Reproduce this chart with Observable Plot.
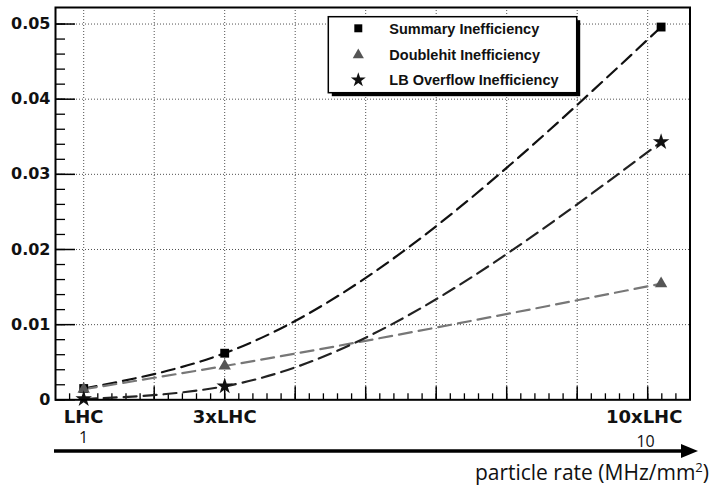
<!DOCTYPE html>
<html>
<head>
<meta charset="utf-8">
<script src="https://cdn.jsdelivr.net/npm/d3@7"></script>
<script src="https://cdn.jsdelivr.net/npm/@observablehq/plot@0.6"></script>
<style>
  html, body { margin: 0; padding: 0; background: #fff; }
  #chart { width: 710px; height: 487px; }
</style>
</head>
<body>
<div id="chart"></div>
<script>
// ---- data ----
const rateX = [1, 3, 9.19];                       // plotted x positions of LHC, 3xLHC, 10xLHC
const summary   = [0.0015, 0.0062, 0.0496];
const doublehit = [0.0014, 0.0045, 0.01545];
const lbOverflow = [0.0001, 0.0018, 0.0343];
const seriesNames = ["Summary Inefficiency", "Doublehit Inefficiency", "LB Overflow Inefficiency"];
const xLabels = ["LHC", "3xLHC", "10xLHC"];
const xLabelPos = [1, 3, 8.95];
const rateTickLabels = ["1", "10"];
const rateTickPos = [1, 8.97];
const yTicks = [0, 0.01, 0.02, 0.03, 0.04, 0.05];
const yMinorTicks = d3.range(0, 0.0501, 0.002);
const xGrid = [1, 2, 3, 4, 5, 6, 7, 8, 9];
const xMinorTicks = d3.range(0.8, 9.41, 0.2);
const xAxisTitle = "particle rate (MHz/mm";
const xAxisTitleSup = "2";

// ---- table ----
const seriesVals = [summary, doublehit, lbOverflow];
const data = seriesNames.flatMap((s, i) => rateX.map((x, j) => ({series: s, x, y: seriesVals[i][j]})));

const W = 710, H = 487;
const mL = 55, mR = 20.5, mT = 7, mB = 87.7;
const plotW = W - mL - mR, plotH = H - mT - mB;

const symbols = {"Summary Inefficiency": "square", "Doublehit Inefficiency": "triangle", "LB Overflow Inefficiency": "star"};
const markColor = {"Summary Inefficiency": "#000", "Doublehit Inefficiency": "#555", "LB Overflow Inefficiency": "#111"};
const lineColor = {"Summary Inefficiency": "#111", "Doublehit Inefficiency": "#777", "LB Overflow Inefficiency": "#222"};
const markR = {"Summary Inefficiency": 5, "Doublehit Inefficiency": 4.6, "LB Overflow Inefficiency": 5.2};

const gridStyle = {stroke: "#333", strokeOpacity: 0.85, strokeDasharray: "1,2", strokeWidth: 1};
const marks = [
  Plot.gridX(xGrid, gridStyle),
  Plot.gridY(yTicks.slice(1), gridStyle),
  // inward ticks on y axis
  Plot.tickY(yMinorTicks, {stroke: "#000", strokeWidth: 1.3, insetRight: plotW - 10}),
  Plot.tickY(yTicks, {stroke: "#000", strokeWidth: 1.5, insetRight: plotW - 20}),
  // inward ticks on x axis
  Plot.tickX(xMinorTicks, {stroke: "#000", strokeWidth: 1.3, insetTop: plotH - 6}),
  Plot.tickX(xGrid, {stroke: "#000", strokeWidth: 1.5, insetTop: plotH - 13}),
  Plot.axisY(yTicks, {tickSize: 0, tickPadding: 5, tickFormat: d => d === 0 ? "0" : d.toFixed(2),
    fontSize: 16, fontWeight: "bold", fontFamily: "DejaVu Sans", fill: "#111", label: null}),
  Plot.axisX({ticks: [], label: null, tickSize: 0}),
];
seriesNames.forEach(s => {
  marks.push(Plot.line(data.filter(d => d.series === s), {
    x: "x", y: "y", curve: "monotone-x", stroke: lineColor[s], strokeWidth: 2.2, strokeDasharray: "13,7"
  }));
});
seriesNames.forEach(s => {
  marks.push(Plot.dot(data.filter(d => d.series === s), {
    x: "x", y: "y", symbol: () => symbols[s], fill: markColor[s], stroke: "none", r: markR[s]
  }));
});
marks.push(
  Plot.text(xLabels, {x: (d, i) => xLabelPos[i], text: d => d, frameAnchor: "bottom", lineAnchor: "bottom",
    dy: 23.5, fontSize: 18, fontWeight: "bold", fontFamily: "DejaVu Sans", fill: "#111"}),
  Plot.text([rateTickLabels[0]], {x: () => rateTickPos[0], text: d => d, frameAnchor: "bottom", lineAnchor: "bottom",
    dy: 43.4, fontSize: 16, fontFamily: "Open Sans", fill: "#111"}),
  Plot.text([rateTickLabels[1]], {x: () => rateTickPos[1], text: d => d, frameAnchor: "bottom", lineAnchor: "bottom",
    dy: 47.4, fontSize: 16, fontFamily: "Open Sans", fill: "#111"}),
  Plot.frame({stroke: "#000", strokeWidth: 2})
);

const plot = Plot.plot({
  width: W, height: H,
  marginLeft: mL, marginRight: mR, marginTop: mT, marginBottom: mB,
  x: {domain: [0.6, 9.6]},
  y: {domain: [0, 0.0522]},
  symbol: {type: "identity"},
  style: {background: "#fff", overflow: "visible"},
  marks
});

const svg = d3.select(plot);

// ---- legend ----
const lg = svg.append("g").attr("transform", "translate(328.3,16.7)").attr("text-anchor", "start");
lg.append("rect").attr("x", 3.5).attr("y", 3.5).attr("width", 248.4).attr("height", 76).attr("fill", "#000");
lg.append("rect").attr("x", 0).attr("y", 0).attr("width", 248.4).attr("height", 76)
  .attr("fill", "#fff").attr("stroke", "#000").attr("stroke-width", 1.5);
const rowY = [11.6, 38.3, 63.3];
const legSym = {"square": d3.symbolSquare, "triangle": d3.symbolTriangle, "star": d3.symbolStar};
seriesNames.forEach((s, i) => {
  const r = markR[s] * 0.9;
  lg.append("path")
    .attr("d", d3.symbol(legSym[symbols[s]], Math.PI * r * r)())
    .attr("transform", `translate(30,${rowY[i]})`)
    .attr("fill", markColor[s]);
  lg.append("text").attr("x", 61).attr("y", rowY[i]).attr("dy", "0.36em")
    .attr("text-anchor", "start")
    .attr("font-family", "Liberation Sans, Arial, sans-serif").attr("font-weight", "bold")
    .attr("font-size", 14.5).attr("fill", "#111").text(s);
});

// ---- rate arrow and title ----
svg.append("line").attr("x1", 54).attr("x2", 684).attr("y1", 451).attr("y2", 451)
  .attr("stroke", "#000").attr("stroke-width", 3.4);
svg.append("path").attr("d", "M681,444L698,451L681,458Z").attr("fill", "#000");
const t = svg.append("text").attr("x", 709).attr("y", 480).attr("text-anchor", "end")
  .attr("font-family", "Open Sans, sans-serif").attr("font-size", 21).attr("fill", "#111");
t.append("tspan").text(xAxisTitle);
t.append("tspan").attr("dy", -8).attr("font-size", 13).text(xAxisTitleSup);
t.append("tspan").attr("dy", 8).text(")");

document.getElementById("chart").appendChild(plot);
</script>
</body>
</html>
